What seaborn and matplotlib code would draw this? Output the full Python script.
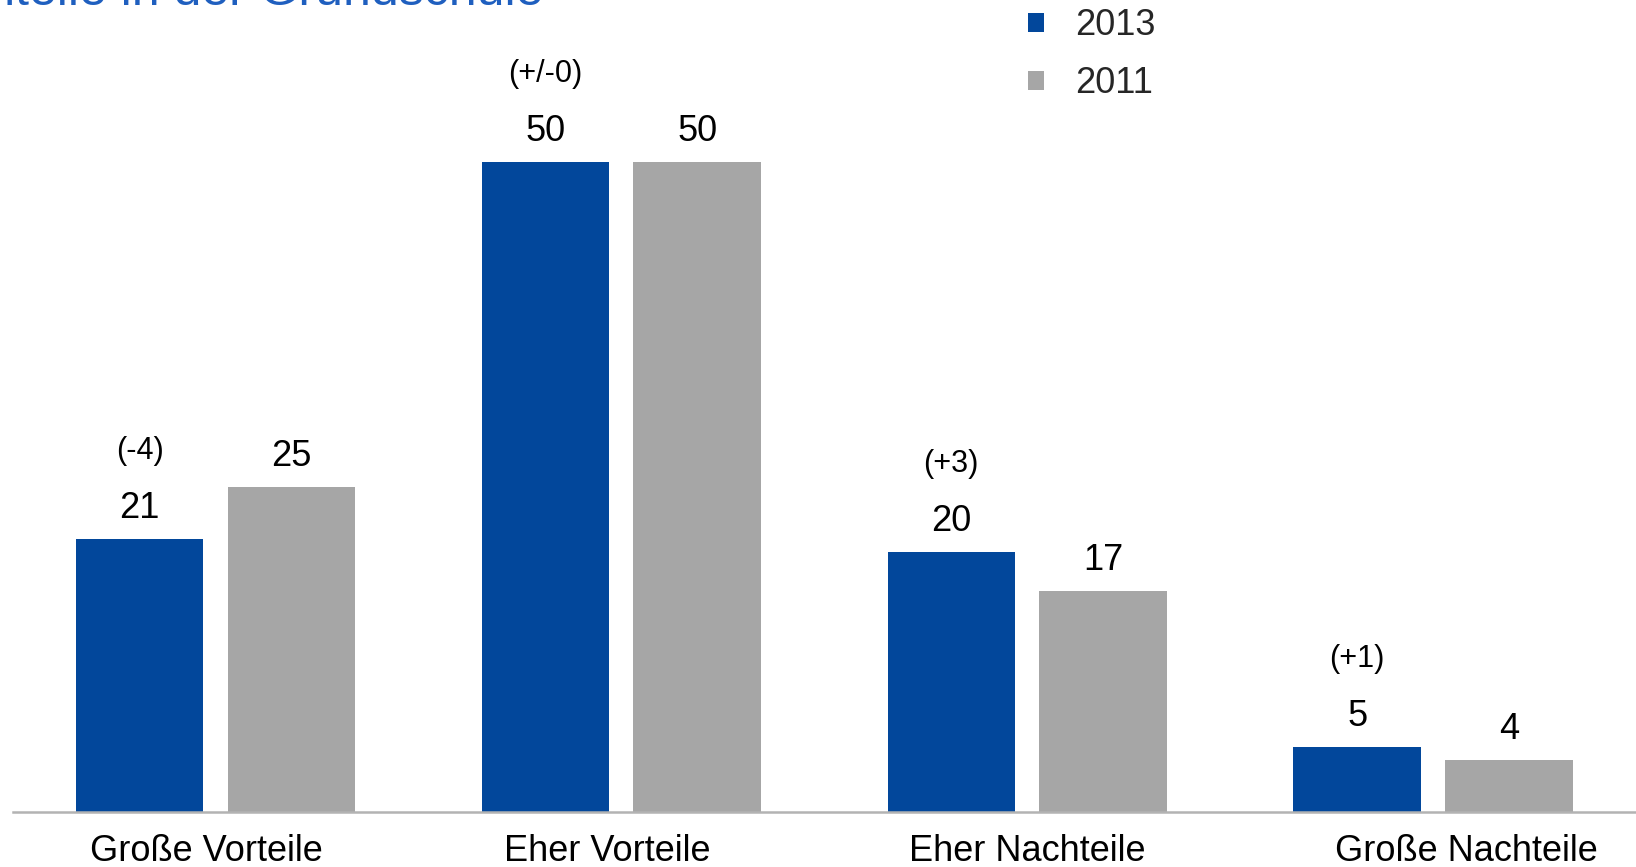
import pandas as pd
import matplotlib
matplotlib.use("Agg")
import matplotlib.pyplot as plt
import matplotlib.transforms as mtransforms
from matplotlib.patches import Patch
import seaborn as sns

# Umfragewerte in Prozent
categories = ["Große Vorteile", "Eher Vorteile", "Eher Nachteile", "Große Nachteile"]
years = ["2013", "2011"]
values_2013 = [21, 50, 20, 5]
values_2011 = [25, 50, 17, 4]
changes = ["(-4)", "(+/-0)", "(+3)", "(+1)"]
title = "Vor- und Nachteile in der Grundschule"

BLUE = "#02479b"
GREY = "#a6a6a6"
TITLE_BLUE = "#1f5fbf"

sns.set_theme(style="white")
plt.rcParams["font.family"] = ["Liberation Sans", "DejaVu Sans"]

df = pd.DataFrame({
    "Kategorie": categories * 2,
    "Jahr": [years[0]] * len(categories) + [years[1]] * len(categories),
    "Wert": values_2013 + values_2011,
})

W, H, DPI = 1636, 867, 100
fig = plt.figure(figsize=(W / DPI, H / DPI), dpi=DPI)
ax = fig.add_axes([12.5 / W, 55 / H, 1 - 12.5 / W, 812 / H])

sns.barplot(data=df, x="Kategorie", y="Wert", hue="Jahr", order=categories,
            hue_order=years, palette=[BLUE, GREY], width=0.748, gap=0.16,
            saturation=1, linewidth=0, legend=False, ax=ax)

ax.set_xlim(-0.5, 3.5)
ax.set_ylim(0, 812 / 13.0)
ax.set_xlabel("")
ax.set_ylabel("")
ax.set_yticks([])
for side in ("left", "top", "right"):
    ax.spines[side].set_visible(False)
ax.spines["bottom"].set_color("#b3b3b3")
ax.spines["bottom"].set_linewidth(1.8)
ax.tick_params(axis="x", length=0, labelsize=26, pad=16, colors="black")

# Kategorienbeschriftungen leicht versetzt
nudges = [-9, -14, 0, 33]
for lab, dx in zip(ax.get_xticklabels(), nudges):
    lab.set_transform(lab.get_transform() +
                      mtransforms.ScaledTranslation(dx / DPI, 0, fig.dpi_scale_trans))

# Wertebeschriftungen über den Balken
for container, vals in zip(ax.containers, (values_2013, values_2011)):
    for bar, v in zip(container, vals):
        xc = bar.get_x() + bar.get_width() / 2
        ax.annotate(str(v), (xc, bar.get_height()), xytext=(0, 21),
                    textcoords="offset pixels", ha="center", va="baseline",
                    fontsize=26, color="black", annotation_clip=False)

# Veränderung gegenüber 2011 über den 2013-Balken
for bar, txt in zip(ax.containers[0], changes):
    xc = bar.get_x() + bar.get_width() / 2
    ax.annotate(txt, (xc, bar.get_height()), xytext=(0, 80),
                textcoords="offset pixels", ha="center", va="baseline",
                fontsize=22, color="black", annotation_clip=False)

handles = [Patch(facecolor=BLUE, edgecolor="none"), Patch(facecolor=GREY, edgecolor="none")]
fig.legend(handles, years, loc="upper left", bbox_to_anchor=(1028 / W, 1 - 8 / H),
           frameon=False, fontsize=26, handlelength=0.44, handleheight=0.44,
           handletextpad=0.86, labelspacing=0.64, borderpad=0, borderaxespad=0)

fig.text(543 / W, 1 - 5 / H, title, ha="right", va="baseline",
         fontsize=36, color=TITLE_BLUE)

fig.savefig("out.png", dpi=DPI)
